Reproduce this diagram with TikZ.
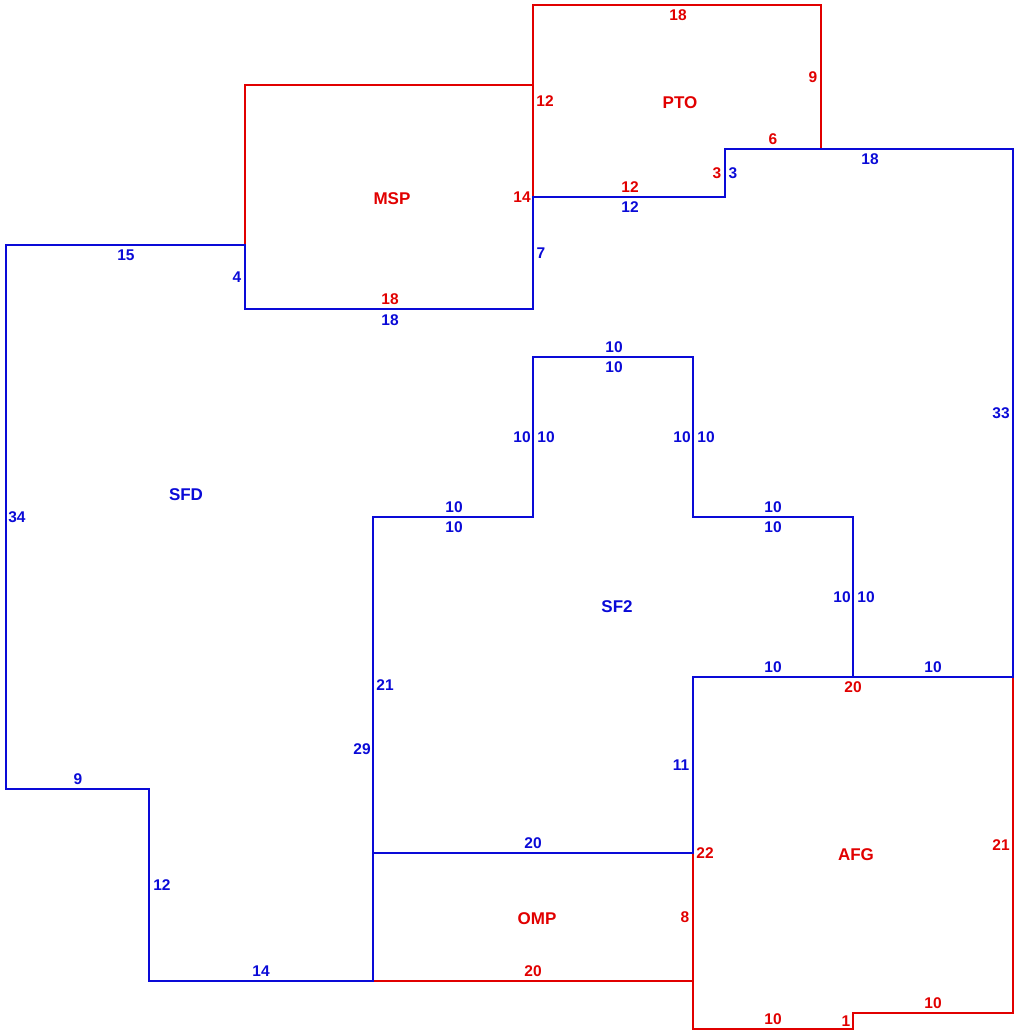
\documentclass[tikz,border=0pt]{standalone}
\usepackage{fontspec}
\setmainfont{Liberation Sans}
\definecolor{wblue}{RGB}{10,10,215}
\definecolor{wred}{RGB}{225,0,0}
\tikzset{
  bwall/.style={draw=wblue, line width=1.5pt, line join=miter},
  rwall/.style={draw=wred, line width=1.5pt, line join=miter},
  bl/.style={text=wblue, inner sep=0pt, font=\fontsize{15.5}{15.5}\selectfont\bfseries},
  rl/.style={text=wred, inner sep=0pt, font=\fontsize{15.5}{15.5}\selectfont\bfseries},
  roomname/.style={font=\fontsize{17}{17}\selectfont\bfseries},
}
\begin{document}
\begin{tikzpicture}[x=1pt, y=-1pt]
\useasboundingbox (0,0) rectangle (1020,1036);
% red areas
\draw[rwall] (245,85) -- (533,85) -- (533,309) -- (245,309) -- cycle; % MSP
\draw[rwall] (533,5) -- (821,5) -- (821,149) -- (725,149) -- (725,197) -- (533,197) -- cycle; % PTO
\draw[rwall] (693,677) -- (1013,677) -- (1013,1013) -- (853,1013) -- (853,1029) -- (693,1029) -- cycle; % AFG
\draw[rwall] (373,853) -- (693,853) -- (693,981) -- (373,981) -- cycle; % OMP
% blue areas
\draw[bwall] (6,245) -- (245,245) -- (245,309) -- (533,309) -- (533,197) -- (725,197) -- (725,149) -- (1013,149) -- (1013,677) -- (853,677) -- (853,517) -- (693,517) -- (693,357) -- (533,357) -- (533,517) -- (373,517) -- (373,981) -- (149,981) -- (149,789) -- (6,789) -- cycle; % SFD
\draw[bwall] (373,517) -- (533,517) -- (533,357) -- (693,357) -- (693,517) -- (853,517) -- (853,677) -- (693,677) -- (693,853) -- (373,853) -- cycle; % SF2
% room names
\node[rl, roomname] (nmsp) at (392,199) {MSP};
\node[rl, roomname] (npto) at (680,103) {PTO};
\node[bl, roomname] (nsfd) at (186,495) {SFD};
\node[bl, roomname] (nsf2) at (617,607) {SF2};
\node[rl, roomname] (nafg) at (856,855) {AFG};
\node[rl, roomname] (nomp) at (537,919) {OMP};
% MSP labels
\node[rl] (m1) at (522,197) {14};
\node[rl] (m2) at (390,299) {18};
% PTO labels
\node[rl] (p1) at (678,15) {18};
\node[rl] (p2) at (813,77) {9};
\node[rl] (p3) at (773,139) {6};
\node[rl] (p4) at (717,173) {3};
\node[rl] (p5) at (630,187) {12};
\node[rl] (p6) at (545,101) {12};
% AFG labels
\node[rl] (a1) at (853,687) {20};
\node[rl] (a2) at (1001,845) {21};
\node[rl] (a3) at (933,1003) {10};
\node[rl] (a4) at (846,1021) {1};
\node[rl] (a5) at (773,1019) {10};
\node[rl] (a6) at (705,853) {22};
% OMP labels
\node[rl] (o1) at (533,971) {20};
\node[rl] (o2) at (685,917) {8};
% SFD labels
\node[bl] (s1) at (126,255) {15};
\node[bl] (s2) at (237,277) {4};
\node[bl] (s3) at (390,320) {18};
\node[bl] (s4) at (541,253) {7};
\node[bl] (s5) at (630,207) {12};
\node[bl] (s6) at (733,173) {3};
\node[bl] (s7) at (870,159) {18};
\node[bl] (s8) at (1001,413) {33};
\node[bl] (s9) at (933,667) {10};
\node[bl] (s10) at (842,597) {10};
\node[bl] (s11) at (773,507) {10};
\node[bl] (s12) at (682,437) {10};
\node[bl] (s13) at (614,347) {10};
\node[bl] (s14) at (522,437) {10};
\node[bl] (s15) at (454,507) {10};
\node[bl] (s16) at (362,749) {29};
\node[bl] (s17) at (261,971) {14};
\node[bl] (s18) at (162,885) {12};
\node[bl] (s19) at (78,779) {9};
\node[bl] (s20) at (17,517) {34};
% SF2 labels
\node[bl] (t1) at (454,527) {10};
\node[bl] (t2) at (546,437) {10};
\node[bl] (t3) at (614,367) {10};
\node[bl] (t4) at (706,437) {10};
\node[bl] (t5) at (773,527) {10};
\node[bl] (t6) at (866,597) {10};
\node[bl] (t7) at (773,667) {10};
\node[bl] (t8) at (681,765) {11};
\node[bl] (t9) at (533,843) {20};
\node[bl] (t10) at (385,685) {21};
\end{tikzpicture}
\end{document}
